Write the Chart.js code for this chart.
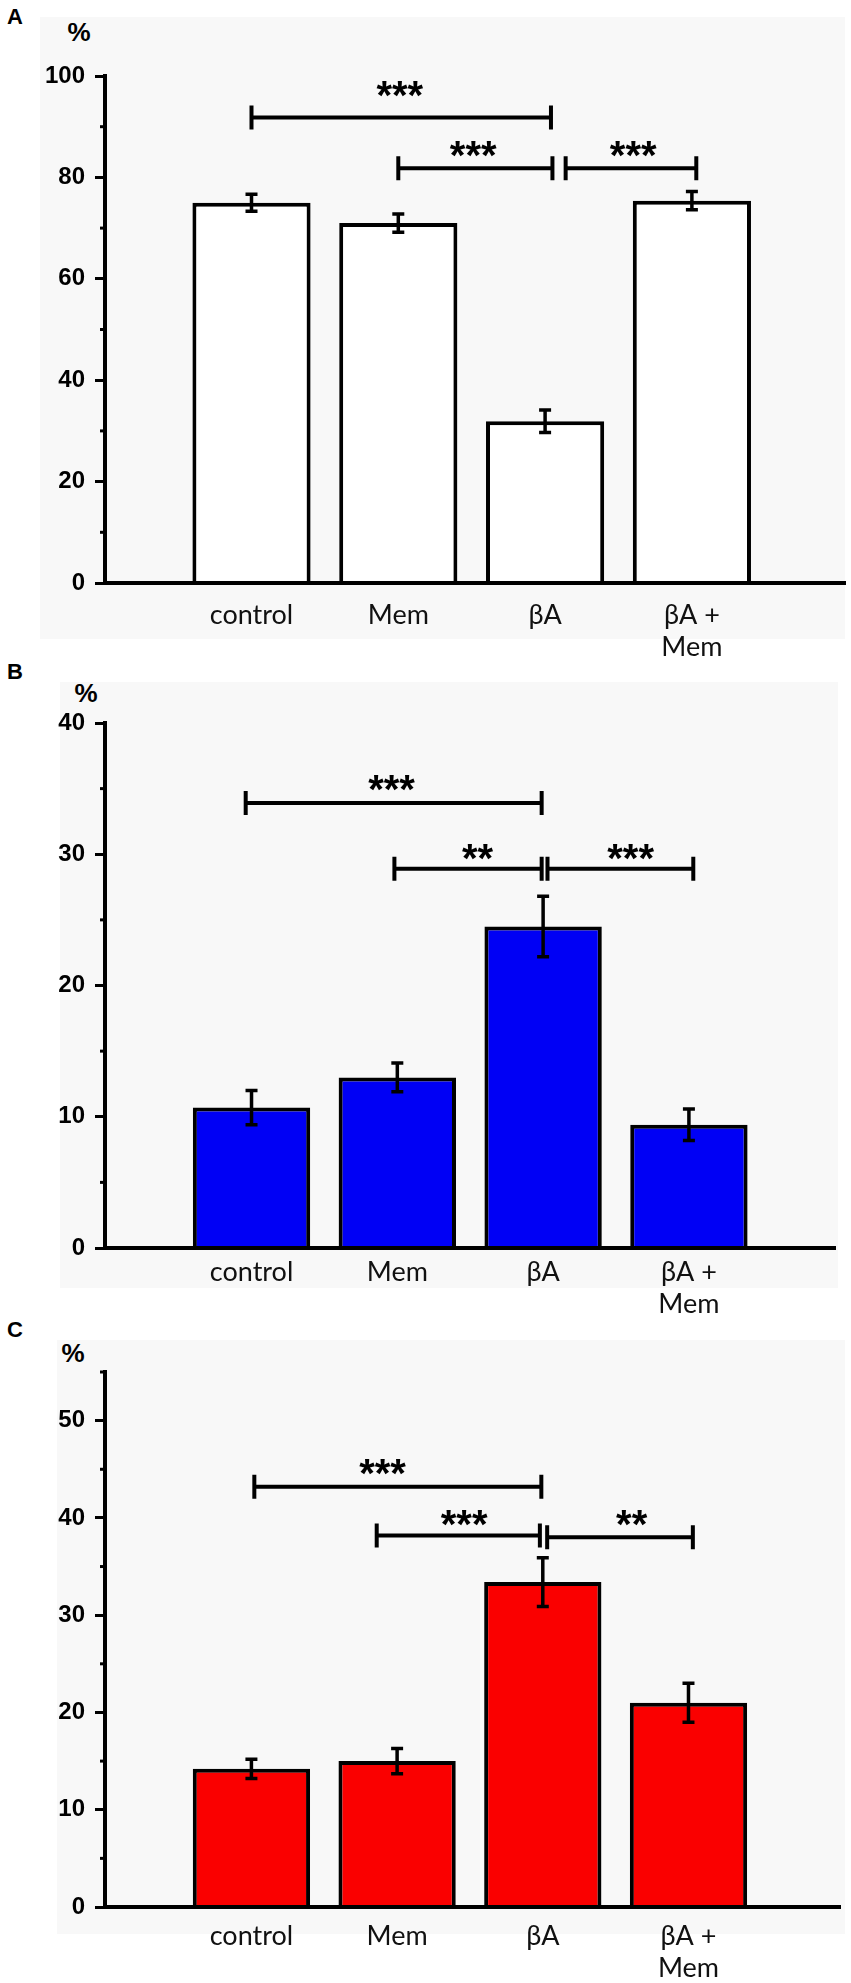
<!DOCTYPE html>
<html>
<head>
<meta charset="utf-8">
<script src="https://cdn.jsdelivr.net/npm/chart.js@4.4.1/dist/chart.umd.min.js"></script>
<style>
  body { margin: 0; background: #fff; width: 851px; height: 1983px; position: relative; overflow: hidden; }
  .bg { position: absolute; background: #f8f8f8; }
  .box { position: absolute; left: 0; width: 851px; }
  .lbl { position: absolute; font-family: "Liberation Sans", Arial, sans-serif; font-weight: bold; line-height: 1; transform: translate(-50%, -50%); color: #000; }
</style>
</head>
<body>
<div class="bg" style="left:40px;top:17px;width:805px;height:622px"></div>
<div class="bg" style="left:60px;top:682px;width:778px;height:606px"></div>
<div class="bg" style="left:57px;top:1340px;width:788px;height:594px"></div>

<div class="lbl" style="left:15px;top:17px;font-size:22px">A</div>
<div class="lbl" style="left:79px;top:32px;font-size:26px">%</div>
<div class="lbl" style="left:15px;top:672px;font-size:22px">B</div>
<div class="lbl" style="left:86px;top:693px;font-size:26px">%</div>
<div class="lbl" style="left:15px;top:1330px;font-size:22px">C</div>
<div class="lbl" style="left:73px;top:1353px;font-size:26px">%</div>

<div class="box" style="top:0;height:680px"><canvas id="chartA"></canvas></div>
<div class="box" style="top:640px;height:680px"><canvas id="chartB"></canvas></div>
<div class="box" style="top:1300px;height:683px"><canvas id="chartC"></canvas></div>

<script>
const categories = ["control", "Mem", "βA", ["βA +", "Mem"]];

// A: white bars
const meansA = [75.0, 71.0, 31.9, 75.4];
const errorsA = [1.7, 1.8, 2.2, 1.8];
const sigFromA = [0, 1, 2.14];
const sigToA = [2.04, 2.05, 3.03];
const sigYA = [91.8, 81.8, 81.8];
const starsA = ["***", "***", "***"];
const starXA = [1.01, 1.51, 2.6];
const starYA = [97.4, 85.7, 85.7];

// B: blue bars
const meansB = [10.7, 13.0, 24.5, 9.4];
const errorsB = [1.3, 1.1, 2.3, 1.2];
const sigFromB = [-0.04, 0.98, 2.03];
const sigToB = [1.99, 1.99, 3.03];
const sigYB = [33.9, 28.9, 28.9];
const starsB = ["***", "**", "***"];
const starXB = [0.96, 1.55, 2.6];
const starYB = [35.4, 30.2, 30.2];

// C: red bars
const meansC = [14.2, 15.0, 33.4, 21.0];
const errorsC = [1.0, 1.3, 2.5, 2.0];
const sigFromC = [0.02, 0.86, 2.03];
const sigToC = [1.99, 1.98, 3.03];
const sigYC = [43.2, 38.2, 38.0];
const starsC = ["***", "***", "**"];
const starXC = [0.9, 1.46, 2.61];
const starYC = [45.2, 40.0, 40.0];

const extras = {
    id: "extras",
    afterDraw(chart, args, o) {
        const ctx = chart.ctx;
        const xs = chart.scales.x, ys = chart.scales.y;
        ctx.save();
        ctx.strokeStyle = "#000";
        ctx.fillStyle = "#000";

        // short minor ticks between the labelled ones
        ctx.lineWidth = 3;
        const step = ys.ticks[1].value - ys.ticks[0].value;
        for (let v = step / 2; v <= ys.max; v += step) {
            const py = ys.getPixelForValue(v);
            ctx.beginPath();
            ctx.moveTo(xs.left - 5, py);
            ctx.lineTo(xs.left, py);
            ctx.stroke();
        }

        // error bars
        ctx.lineWidth = 3.5;
        o.means.forEach((m, i) => {
            const px = xs.getPixelForValue(i);
            const top = ys.getPixelForValue(m + o.errors[i]);
            const bot = ys.getPixelForValue(m - o.errors[i]);
            ctx.beginPath();
            ctx.moveTo(px, top); ctx.lineTo(px, bot);
            ctx.moveTo(px - 6, top); ctx.lineTo(px + 6, top);
            ctx.moveTo(px - 6, bot); ctx.lineTo(px + 6, bot);
            ctx.stroke();
        });

        // significance brackets
        ctx.lineWidth = 4;
        ctx.font = "bold 40px 'Liberation Sans', Arial, sans-serif";
        ctx.textAlign = "center";
        ctx.textBaseline = "alphabetic";
        o.sigFrom.forEach((f, k) => {
            const x1 = xs.getPixelForValue(f);
            const x2 = xs.getPixelForValue(o.sigTo[k]);
            const y = ys.getPixelForValue(o.sigY[k]);
            ctx.beginPath();
            ctx.moveTo(x1, y); ctx.lineTo(x2, y);
            ctx.moveTo(x1, y - 12); ctx.lineTo(x1, y + 12);
            ctx.moveTo(x2, y - 12); ctx.lineTo(x2, y + 12);
            ctx.stroke();

            const m = ctx.measureText(o.stars[k]);
            const cy = ys.getPixelForValue(o.starY[k]);
            ctx.fillText(o.stars[k], xs.getPixelForValue(o.starX[k]),
                cy + (m.actualBoundingBoxAscent - m.actualBoundingBoxDescent) / 2);
        });
        ctx.restore();
    }
};

function drawPanel(id, means, errors, sig, fill, yMax, yStep, xMin, xMax, box) {
    new Chart(document.getElementById(id), {
        type: "bar",
        data: {
            datasets: [{
                data: means.map((m, i) => ({ x: i, y: m })),
                backgroundColor: fill,
                borderColor: "#000",
                borderWidth: 4,
                barPercentage: 0.805,
                categoryPercentage: 1
            }]
        },
        options: {
            responsive: true,
            maintainAspectRatio: false,
            animation: false,
            layout: { padding: { top: box.top, right: box.right, left: 0, bottom: 0 } },
            plugins: {
                legend: { display: false },
                tooltip: { enabled: false },
                extras: Object.assign({ means: means, errors: errors }, sig)
            },
            scales: {
                x: {
                    type: "linear",
                    offset: false,
                    min: xMin,
                    max: xMax,
                    afterBuildTicks: s => { s.ticks = categories.map((c, i) => ({ value: i })); },
                    afterFit: s => { s.height = box.xHeight; },
                    grid: { display: false },
                    border: { display: true, color: "#000", width: 4, z: 1 },
                    ticks: {
                        callback: v => categories[v],
                        autoSkip: false,
                        maxRotation: 0,
                        padding: box.labelPad,
                        color: "#111",
                        font: { family: "Lato, 'Open Sans', sans-serif", size: 27 }
                    }
                },
                y: {
                    min: 0,
                    max: yMax,
                    afterFit: s => { s.width = 105; },
                    grid: { drawOnChartArea: false, tickLength: 10, tickWidth: 3, tickColor: "#000" },
                    border: { display: true, color: "#000", width: 4, z: 1 },
                    ticks: {
                        stepSize: yStep,
                        includeBounds: false,
                        padding: 10,
                        color: "#000",
                        font: { family: "'Liberation Sans', Arial, sans-serif", weight: "bold", size: 24 }
                    }
                }
            }
        },
        plugins: [extras]
    });
}

drawPanel("chartA", meansA, errorsA,
    { sigFrom: sigFromA, sigTo: sigToA, sigY: sigYA, stars: starsA, starX: starXA, starY: starYA },
    "#ffffff", 100, 20, -0.998, 4.043,
    { top: 76, right: 6, xHeight: 97, labelPad: 8 });
drawPanel("chartB", meansB, errorsB,
    { sigFrom: sigFromB, sigTo: sigToB, sigY: sigYB, stars: starsB, starX: starXB, starY: starYB },
    "#0000f5", 40, 10, -1.005, 4.002,
    { top: 83, right: 16, xHeight: 72, labelPad: 0 });
drawPanel("chartC", meansC, errorsC,
    { sigFrom: sigFromC, sigTo: sigToC, sigY: sigYC, stars: starsC, starX: starXC, starY: starYC },
    "#fa0000", 55, 10, -1.005, 4.04,
    { top: 72, right: 11, xHeight: 76, labelPad: 5 });
</script>
</body>
</html>
